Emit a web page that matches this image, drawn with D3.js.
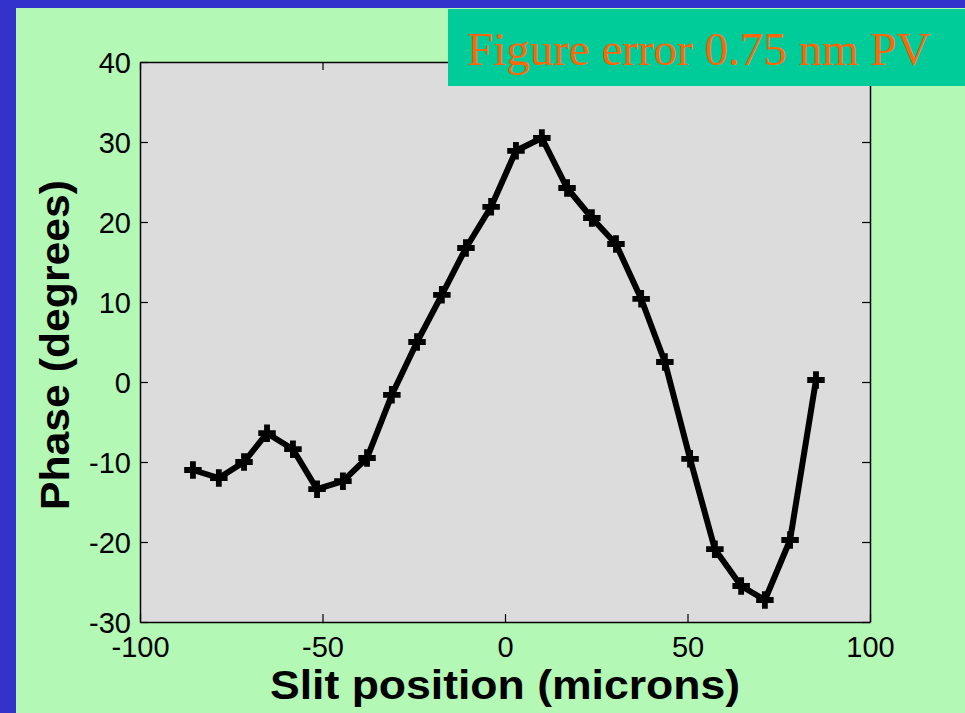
<!DOCTYPE html>
<html>
<head>
<meta charset="utf-8">
<script src="https://cdn.jsdelivr.net/npm/d3@7"></script>
<style>
  body { margin: 0; background: #3333cc; }
  svg { display: block; }
</style>
</head>
<body>
<div id="chart"></div>
<script>
// slit position (microns) and measured phase (degrees)
const slitPos = [-85.5, -78.4, -71.5, -65.2, -58.1, -51.5, -44.4, -37.8, -31, -24.1, -17.3, -10.7, -3.8,
                 3, 10.1, 17, 23.8, 30.4, 37.3, 43.8, 50.7, 57.5, 64.7, 71.2, 78.1, 85.2];
const phase = [-11, -12, -10, -6.4, -8.4, -13.4, -12.4, -9.5, -1.6, 5, 10.9, 16.75, 21.9,
               28.9, 30.5, 24.25, 20.5, 17.25, 10.4, 2.5, -9.6, -20.9, -25.5, -27.25, -19.75, 0.25];
const xTicks = [-100, -50, 0, 50, 100];
const yTicks = [-30, -20, -10, 0, 10, 20, 30, 40];

const width = 965;
const height = 713;
const margin = { top: 62, right: 95, bottom: 91, left: 140 };
const sans = 'Liberation Sans, Arial, sans-serif';

const svg = d3.select('#chart')
  .append('svg')
  .attr('width', width)
  .attr('height', height);

// background panels
svg.append('rect').attr('width', width).attr('height', height).attr('fill', '#3333cc');
svg.append('rect').attr('x', 16).attr('y', 8).attr('width', width - 16).attr('height', height - 8)
  .attr('fill', '#b3f8b5');

const x = d3.scaleLinear().domain([-100, 100]).range([margin.left, width - margin.right]);
const y = d3.scaleLinear().domain([-30, 40]).range([height - margin.bottom, margin.top]);

svg.append('rect')
  .attr('x', x(-100)).attr('y', y(40))
  .attr('width', x(100) - x(-100)).attr('height', y(-30) - y(40))
  .attr('fill', '#dcdcdc');

// axes with inward ticks on all four sides
function styleAxis(g) {
  g.select('.domain').attr('stroke', '#000').attr('stroke-width', 1.5);
  g.selectAll('.tick line').attr('stroke', '#000').attr('stroke-width', 1.2);
  g.selectAll('text').attr('fill', '#000')
    .attr('font-family', sans).attr('font-size', '29px');
}

svg.append('g')
  .attr('transform', `translate(0,${y(-30)})`)
  .call(d3.axisBottom(x).tickValues(xTicks).tickSize(-8).tickPadding(14).tickSizeOuter(0)
    .tickFormat(d => String(d)))
  .call(styleAxis);

svg.append('g')
  .attr('transform', `translate(${x(-100)},0)`)
  .call(d3.axisLeft(y).tickValues(yTicks).tickSize(-8).tickPadding(9).tickSizeOuter(0)
    .tickFormat(d => String(d)))
  .call(styleAxis)
  .call(g => g.selectAll('text').attr('dy', '0.36em'));

svg.append('g')
  .attr('transform', `translate(0,${y(40)})`)
  .call(d3.axisTop(x).tickValues(xTicks).tickSize(-8).tickFormat('').tickSizeOuter(0))
  .call(styleAxis);

svg.append('g')
  .attr('transform', `translate(${x(100)},0)`)
  .call(d3.axisRight(y).tickValues(yTicks).tickSize(-8).tickFormat('').tickSizeOuter(0))
  .call(styleAxis);

// the data line
const pts = slitPos.map((d, i) => [d, phase[i]]);
const line = d3.line().x(d => x(d[0])).y(d => y(d[1]));

svg.append('path')
  .datum(pts)
  .attr('d', line)
  .attr('fill', 'none')
  .attr('stroke', '#000')
  .attr('stroke-width', 6)
  .attr('stroke-linejoin', 'round');

svg.append('g')
  .selectAll('path')
  .data(pts)
  .join('path')
  .attr('d', d3.symbol(d3.symbolCross, 170))
  .attr('transform', d => `translate(${x(d[0])},${y(d[1])})`)
  .attr('fill', '#000');

// axis titles
svg.append('text')
  .attr('x', (x(-100) + x(100)) / 2)
  .attr('y', 699)
  .attr('text-anchor', 'middle')
  .attr('font-family', sans)
  .attr('font-weight', 'bold')
  .attr('font-size', '40px')
  .attr('textLength', 470)
  .attr('lengthAdjust', 'spacingAndGlyphs')
  .text('Slit position (microns)');

svg.append('text')
  .attr('transform', `translate(69,${(y(-30) + y(40)) / 2 + 3}) rotate(-90)`)
  .attr('text-anchor', 'middle')
  .attr('font-family', sans)
  .attr('font-weight', 'bold')
  .attr('font-size', '41px')
  .attr('textLength', 330)
  .attr('lengthAdjust', 'spacingAndGlyphs')
  .text('Phase (degrees)');

// title box
svg.append('rect')
  .attr('x', 448).attr('y', 9).attr('width', width - 448).attr('height', 77)
  .attr('fill', '#00cc99');
svg.append('text')
  .attr('x', 467)
  .attr('y', 65)
  .attr('font-family', 'Liberation Serif, Times New Roman, serif')
  .attr('font-size', '47px')
  .attr('fill', '#ff6608')
  .text('Figure error 0.75 nm PV');
</script>
</body>
</html>
